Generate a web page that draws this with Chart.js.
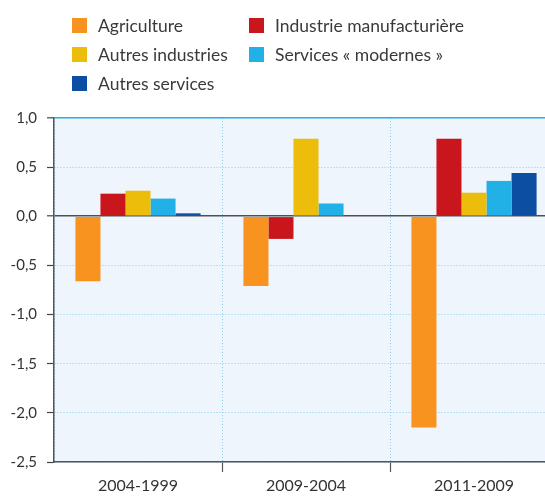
<!DOCTYPE html>
<html>
<head>
<meta charset="utf-8">
<script src="https://cdn.jsdelivr.net/npm/chart.js@4/dist/chart.umd.min.js"></script>
<style>
  html, body { margin:0; padding:0; background:#fff; }
  #wrap { position:relative; width:545px; height:498px; overflow:hidden; }
  #wrap canvas { position:absolute; left:0; top:0; }
  #legend { position:absolute; left:72px; top:18px; display:grid;
            grid-template-columns:177px 260px; grid-auto-rows:29px;
            font-family:Lato, "Open Sans", sans-serif; font-size:17.5px; color:#3a3a3a; }
  #legend .item { display:flex; align-items:flex-start; }
  #legend .sw { width:15px; height:15px; margin-right:11px; flex:none; }
  #legend .lbl { line-height:15px; }
</style>
</head>
<body>
<div id="wrap">
  <canvas id="chart" width="558" height="498"></canvas>
  <div id="legend"></div>
</div>
<script>
const periods = ["2004-1999", "2009-2004", "2011-2009"];
const seriesNames = ["Agriculture", "Industrie manufacturière", "Autres industries", "Services « modernes »", "Autres services"];
const seriesColors = ["#F7931E", "#C9161D", "#ECBD0A", "#21B1E6", "#0C4EA2"];

const agriculture      = [-0.66, -0.71, -2.15];
const industrieManuf   = [ 0.23, -0.23,  0.79];
const autresIndustries = [ 0.26,  0.79,  0.24];
const servicesModernes = [ 0.18,  0.13,  0.36];
const autresServices   = [ 0.03,  null,  0.44];

const yMin = -2.5, yMax = 1.0, yStep = 0.5;

const values = [agriculture, industrieManuf, autresIndustries, servicesModernes, autresServices];

const FONT = "Lato, 'Open Sans', sans-serif";

// html legend, two columns like the print version
const legendEl = document.getElementById("legend");
seriesNames.forEach((name, i) => {
  const it = document.createElement("div");
  it.className = "item";
  it.innerHTML = `<span class="sw" style="background:${seriesColors[i]}"></span><span class="lbl">${name}</span>`;
  legendEl.appendChild(it);
});

const plotBg = {
  id: "plotBg",
  beforeDraw(chart){
    const {ctx, chartArea:a} = chart;
    ctx.save();
    ctx.fillStyle = "#EEF5FC";
    ctx.fillRect(a.left, a.top, a.right - a.left, a.bottom - a.top);
    ctx.restore();
  }
};

const fmt = v => v.toFixed(1).replace(".", ",");
const isSolid = c => c.tick && (c.tick.value === 0 || c.tick.value === yMax);

new Chart(document.getElementById("chart"), {
  type: "bar",
  data: {
    labels: periods,
    datasets: values.map((d, i) => ({
      label: seriesNames[i],
      data: d,
      backgroundColor: seriesColors[i],
      borderWidth: 0,
      barPercentage: 1,
      categoryPercentage: 0.745
    }))
  },
  options: {
    responsive: false,
    animation: false,
    devicePixelRatio: 1,
    layout: { padding: { top: 118, right: 0, left: 0, bottom: 0 } },
    plugins: { legend: { display: false }, tooltip: { enabled: false } },
    scales: {
      x: {
        offset: true,
        afterFit: s => { s.height = 36; },
        grid: {
          offset: true,
          color: "#8ccfee",
          lineWidth: 1,
          tickColor: c => c.index === 0 ? "rgba(0,0,0,0)" : "#555",
          tickLength: 10,
          tickWidth: 1.2,
          tickBorderDash: []
        },
        border: { display: true, color: "#555", width: 1.5, dash: [1, 2] },
        ticks: { color: "#333", font: { family: FONT, size: 16 }, padding: 4 }
      },
      y: {
        min: yMin, max: yMax,
        afterFit: s => { s.width = 54; },
        grid: {
          color: c => c.tick && c.tick.value === 0 ? "#505050" : (c.tick && c.tick.value === yMax ? "#22B0E8" : "#8ccfee"),
          lineWidth: c => isSolid(c) ? 1.6 : 1,
          tickColor: "#444",
          tickLength: 7,
          tickWidth: 1.2,
          tickBorderDash: []
        },
        border: {
          display: true, color: "#555", width: 1.5,
          dash: c => isSolid(c) ? [] : [1, 2]
        },
        ticks: {
          stepSize: yStep,
          color: "#333",
          font: { family: FONT, size: 15 },
          padding: 10,
          callback: v => fmt(v)
        }
      }
    }
  },
  plugins: [plotBg]
});
</script>
</body>
</html>
